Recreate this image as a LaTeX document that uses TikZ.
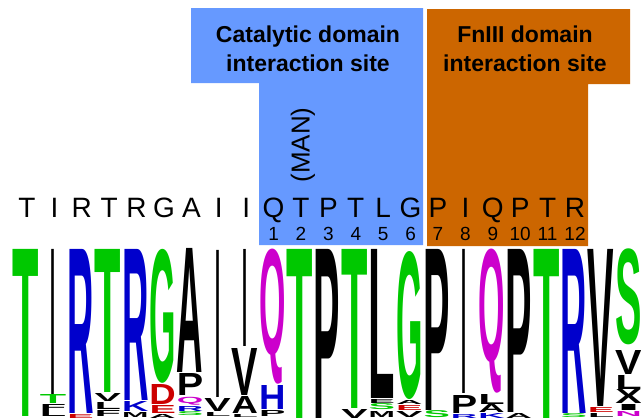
\documentclass[tikz,border=0pt]{standalone}
\usepackage{fontspec}
\setmainfont{Liberation Sans}
\usepackage{graphicx}
\definecolor{boxblue}{HTML}{6699FF}
\definecolor{boxorange}{HTML}{CC6600}
\definecolor{lgreen}{HTML}{00C800}
\definecolor{lblue}{HTML}{0000CC}
\definecolor{lmag}{HTML}{CC00CC}
\definecolor{lred}{HTML}{CC0000}
\definecolor{lblack}{HTML}{000000}
\newcounter{lgc}
\newcommand\logoL[6][26.4]{%
  \stepcounter{lgc}%
  \pgfmathsetmacro\lgx{12+27.4*(#2-0.5)}%
  \pgfmathsetmacro\lgh{#4-#3}%
  \node[lgl, text=#5] (lg\arabic{lgc}) at (\lgx,#3) {\resizebox*{#1pt}{\lgh pt}{\bfseries #6}};%
}
\tikzset{
  lgl/.style={inner sep=0pt, outer sep=0pt, anchor=north},
  seqletter/.style={inner sep=0pt, anchor=base, font=\fontsize{28}{30}\selectfont},
  seqnum/.style={inner sep=0pt, anchor=base, font=\fontsize{19}{21}\selectfont},
  titletext/.style={inner sep=0pt, anchor=base, font=\bfseries\fontsize{23}{27}\selectfont}
}
\begin{document}
\begin{tikzpicture}[x=1pt,y=-1pt]
\useasboundingbox (0,0) rectangle (641,418);
% domain boxes
\fill[boxblue] (191,8) -- (423,8) -- (423,245) -- (259,245) -- (259,83) -- (191,83) -- cycle;
\fill[boxorange] (427,9) -- (630,9) -- (630,84) -- (588,84) -- (588,246) -- (427,246) -- cycle;
\node[titletext] (c1) at (308,42) {Catalytic domain};
\node[titletext] (c2) at (308,71) {interaction site};
\node[titletext] (f1) at (525,42) {FnIII domain};
\node[titletext] (f2) at (525,71) {interaction site};
\node[inner sep=0pt, rotate=90, font=\fontsize{26}{28}\selectfont] (man) at (303,145) {(MAN)};
% sequence
\foreach \L [count=\k from 0] in {T,I,R,T,R,G,A,I,I,Q,T,P,T,L,G,P,I,Q,P,T,R}
  \node[seqletter] (s\k) at (27+27.4*\k,217) {\L};
\foreach \n [count=\k from 9] in {1,...,12}
  \node[seqnum] (n\n) at (27+27.4*\k,240) {\n};
% logo
% col 1
\logoL{1}{249}{416}{lgreen}{T}
% col 2
\logoL[5]{2}{249}{394}{lblack}{I}
\logoL{2}{394}{403}{lgreen}{T}
\logoL{2}{404}{410}{lblack}{F}
\logoL{2}{410}{416}{lblack}{L}
% col 3
\logoL{3}{249}{413}{lblue}{R}
\logoL{3}{414}{418}{lred}{E}
% col 4
\logoL{4}{249}{392}{lgreen}{T}
\logoL{4}{393}{401}{lblack}{V}
\logoL{4}{402}{409}{lblack}{L}
\logoL{4}{410}{416}{lblack}{F}
% col 5
\logoL{5}{249}{400}{lblue}{R}
\logoL{5}{401}{411}{lblue}{K}
\logoL{5}{412}{417}{lblack}{M}
% col 6
\logoL{6}{249}{383}{lgreen}{G}
\logoL{6}{384}{404}{lred}{D}
\logoL{6}{405}{413}{lred}{E}
\logoL{6}{414}{418}{lblack}{A}
% col 7
\logoL{7}{248}{372}{lblack}{A}
\logoL{7}{373}{395}{lblack}{P}
\logoL{7}{397}{405}{lmag}{Q}
\logoL{7}{406}{411}{lblue}{R}
\logoL{7}{412}{416}{lgreen}{S}
% col 8
\logoL[5]{8}{250}{397}{lblack}{I}
\logoL{8}{398}{411}{lblack}{V}
\logoL{8}{412}{416}{lblack}{L}
% col 9
\logoL[5]{9}{249}{346}{lblack}{I}
\logoL{9}{348}{395}{lblack}{V}
\logoL{9}{396}{413}{lblack}{A}
\logoL{9}{414}{417}{lblack}{L}
% col 10
\logoL{10}{249}{384}{lmag}{Q}
\logoL{10}{385}{409}{lblue}{H}
\logoL{10}{410}{416}{lblack}{P}
% col 11
\logoL{11}{249}{418}{lgreen}{T}
% col 12
\logoL{12}{249}{418}{lblack}{P}
% col 13
\logoL{13}{249}{408}{lgreen}{T}
\logoL{13}{409}{418}{lblack}{V}
% col 14
\logoL{14}{249}{398}{lblack}{L}
\logoL{14}{399}{403}{lblack}{E}
\logoL{14}{404}{410}{lgreen}{S}
\logoL{14}{411}{417}{lblack}{M}
% col 15
\logoL{15}{251}{399}{lgreen}{G}
\logoL{15}{400}{404}{lblack}{A}
\logoL{15}{405}{410}{lred}{E}
\logoL{15}{411}{417}{lblack}{V}
% col 16
\logoL{16}{249}{410}{lblack}{P}
\logoL{16}{411}{418}{lgreen}{S}
% col 17
\logoL[5]{17}{249}{393}{lblack}{I}
\logoL{17}{395}{413}{lblack}{P}
\logoL{17}{414}{418}{lblue}{R}
% col 18
\logoL{18}{249}{393}{lmag}{Q}
\logoL{18}{394}{404}{lblack}{L}
\logoL{18}{404}{412}{lblack}{A}
\logoL{18}{413}{418}{lblue}{K}
% col 19
\logoL{19}{249}{412}{lblack}{P}
\logoL{19}{413}{418}{lblack}{A}
% col 20
\logoL{20}{249}{418}{lgreen}{T}
% col 21
\logoL{21}{249}{413}{lblue}{R}
\logoL{21}{414}{418}{lgreen}{S}
% col 22
\logoL{22}{249}{406}{lblack}{V}
\logoL{22}{407}{412}{lred}{E}
\logoL{22}{413}{417}{lblack}{L}
% col 23
\logoL{23}{249}{345}{lgreen}{S}
\logoL{23}{350}{374}{lblack}{V}
\logoL{23}{375}{389}{lblack}{L}
\logoL{23}{389}{403}{lblack}{X}
\logoL{23}{404}{410}{lblack}{I}
\logoL{23}{411}{416}{lmag}{N}
\end{tikzpicture}
\end{document}
